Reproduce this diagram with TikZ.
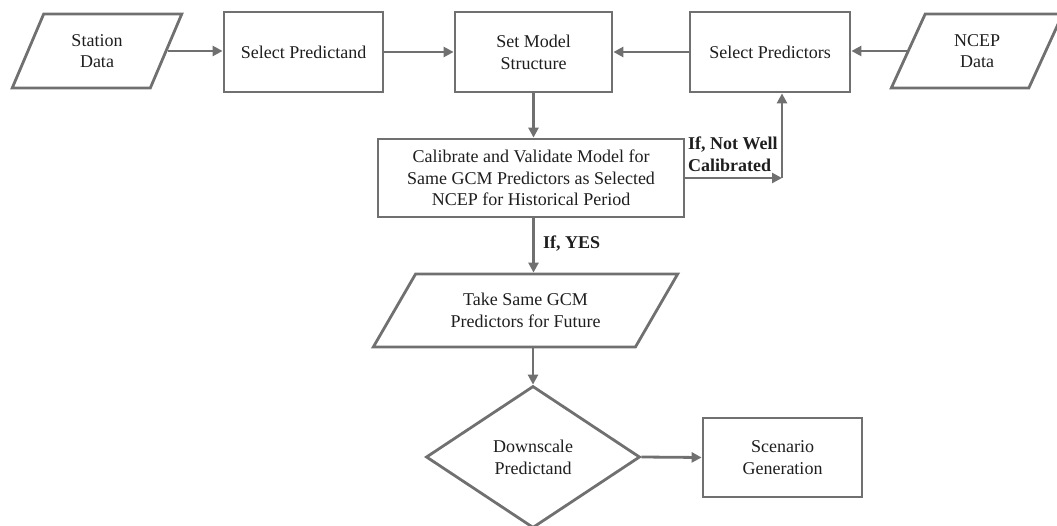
\documentclass[tikz,border=0pt]{standalone}
\usepackage{fontspec}
\setmainfont{Liberation Serif}
\usetikzlibrary{shapes.geometric,arrows.meta}
\definecolor{linegray}{RGB}{112,112,112}
\definecolor{txt}{RGB}{30,30,30}
\begin{document}
\begin{tikzpicture}[x=1pt,y=-1pt,
  every node/.style={font=\fontsize{18}{21.7}\selectfont, text=txt},
  boxnode/.style={draw=linegray, line width=2.8pt, rectangle, inner sep=0pt, align=center},
  datanode/.style={draw=linegray, line width=2.8pt, trapezium, trapezium stretches=true, inner sep=0pt, align=center},
  decnode/.style={draw=linegray, line width=2.8pt, diamond, inner sep=0pt, align=center},
  arr/.style={draw=linegray, line width=2.8pt, -{Triangle[length=10pt,width=10pt]}},
  lbl/.style={font=\fontsize{18}{21.7}\selectfont\bfseries, inner sep=0pt, align=left}
]
\useasboundingbox (0,0) rectangle (1057,526);

\node[datanode, trapezium left angle=66, trapezium right angle=114, minimum width=170pt, minimum height=74pt] (station) at (97,51) {Station\\Data};
\node[boxnode, minimum width=159pt, minimum height=80pt] (predictand) at (303.5,52) {Select Predictand};
\node[boxnode, minimum width=157pt, minimum height=80pt] (model) at (533.5,52) {Set Model\\Structure};
\node[boxnode, minimum width=160pt, minimum height=80pt] (predictors) at (770,52) {Select Predictors};
\node[datanode, trapezium left angle=66, trapezium right angle=114, minimum width=172pt, minimum height=74pt] (ncep) at (977,51) {NCEP\\Data};

\node[boxnode, minimum width=306pt, minimum height=78pt] (cal) at (531,178) {Calibrate and Validate Model for\\Same GCM Predictors as Selected\\NCEP for Historical Period};
\node[datanode, trapezium left angle=50, trapezium right angle=130, minimum width=305pt, minimum height=73pt] (take) at (525.5,310.5) {Take Same GCM\\Predictors for Future};
\node[decnode, minimum width=214pt, minimum height=142pt] (dia) at (533,457) {Downscale\\Predictand};
\node[boxnode, minimum width=159pt, minimum height=79pt] (scen) at (782.5,457.5) {Scenario\\Generation};

\coordinate (corner) at (782,178);

\draw[arr] (station.east) -- (predictand.west |- station.east);
\draw[arr] (predictand.east) -- (model.west);
\draw[arr] (predictors.west) -- (model.east);
\draw[arr] (ncep.west) -- (predictors.east |- ncep.west);
\draw[arr] (model.south) -- (model.south |- cal.north);
\draw[arr] (cal.east) -- (corner);
\draw[arr] (corner) -- (corner |- predictors.south);
\draw[arr] (model.south |- cal.south) -- (model.south |- take.north);
\draw[arr] (take.south -| dia.north) -- (dia.north);
\draw[arr] (dia.east) -- (scen.west);

\node[lbl, anchor=west] (lblnot) at (688,154) {If, Not Well\\Calibrated};
\node[lbl, anchor=west] (lblyes) at (543,244) {If, YES};
\end{tikzpicture}
\end{document}
